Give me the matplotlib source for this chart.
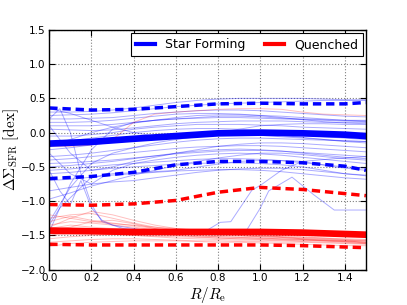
import matplotlib
matplotlib.use("Agg")
import matplotlib.pyplot as plt
import numpy as np

plt.rcParams['mathtext.fontset'] = 'cm'
plt.rcParams['font.family'] = ['DejaVu Sans']

# radial grid for thin profiles
r_grid = [0.0, 0.1, 0.2, 0.3, 0.4, 0.5, 0.6, 0.7, 0.8, 0.9, 1.0, 1.1, 1.2, 1.3, 1.4, 1.5]

blue_profiles = [
    [0.30, 0.30, 0.31, 0.33, 0.36, 0.40, 0.44, 0.47, 0.49, 0.50, 0.50, 0.50, 0.50, 0.49, 0.48, 0.48],
    [0.25, 0.26, 0.27, 0.29, 0.32, 0.35, 0.38, 0.40, 0.42, 0.43, 0.44, 0.45, 0.46, 0.47, 0.47, 0.47],
    [0.20, 0.20, 0.21, 0.22, 0.25, 0.28, 0.30, 0.32, 0.33, 0.33, 0.32, 0.30, 0.28, 0.26, 0.24, 0.23],
    [0.15, 0.15, 0.16, 0.18, 0.21, 0.24, 0.27, 0.28, 0.28, 0.27, 0.25, 0.22, 0.19, 0.16, 0.14, 0.13],
    [0.10, 0.10, 0.10, 0.12, 0.15, 0.18, 0.20, 0.21, 0.22, 0.22, 0.21, 0.20, 0.19, 0.18, 0.17, 0.16],
    [0.05, 0.04, 0.03, 0.04, 0.07, 0.10, 0.13, 0.15, 0.16, 0.17, 0.17, 0.17, 0.16, 0.15, 0.15, 0.15],
    [-0.05, -0.05, -0.03, 0.00, 0.05, 0.08, 0.10, 0.12, 0.12, 0.12, 0.11, 0.10, 0.08, 0.07, 0.06, 0.05],
    [0.35, 0.28, 0.18, 0.08, 0.00, -0.05, -0.05, -0.03, 0.00, 0.05, 0.10, 0.12, 0.13, 0.13, 0.12, 0.12],
    [-0.15, -0.12, -0.08, -0.04, 0.00, 0.03, 0.05, 0.06, 0.06, 0.05, 0.03, 0.00, -0.03, -0.06, -0.08, -0.10],
    [-0.25, -0.22, -0.18, -0.14, -0.10, -0.07, -0.05, -0.04, -0.03, -0.03, -0.04, -0.06, -0.08, -0.10, -0.12, -0.13],
    [-0.35, -0.33, -0.30, -0.26, -0.22, -0.18, -0.14, -0.11, -0.09, -0.08, -0.08, -0.09, -0.10, -0.11, -0.12, -0.13],
    [-0.40, -0.38, -0.35, -0.32, -0.29, -0.26, -0.23, -0.21, -0.20, -0.19, -0.19, -0.20, -0.22, -0.24, -0.26, -0.28],
    [-0.45, -0.44, -0.42, -0.40, -0.37, -0.34, -0.31, -0.29, -0.27, -0.26, -0.26, -0.27, -0.29, -0.31, -0.33, -0.35],
    [-0.50, -0.48, -0.45, -0.42, -0.38, -0.34, -0.30, -0.27, -0.25, -0.24, -0.25, -0.27, -0.30, -0.33, -0.36, -0.38],
    [-0.55, -0.53, -0.50, -0.47, -0.45, -0.43, -0.41, -0.39, -0.38, -0.38, -0.39, -0.41, -0.44, -0.47, -0.50, -0.52],
    [-0.60, -0.58, -0.55, -0.52, -0.50, -0.48, -0.46, -0.45, -0.44, -0.44, -0.45, -0.47, -0.50, -0.55, -0.60, -0.63],
    [-0.70, -0.68, -0.65, -0.62, -0.60, -0.58, -0.56, -0.55, -0.54, -0.54, -0.55, -0.57, -0.60, -0.63, -0.66, -0.68],
    [-0.85, -0.80, -0.75, -0.72, -0.70, -0.66, -0.62, -0.58, -0.55, -0.53, -0.52, -0.52, -0.54, -0.57, -0.60, -0.62],
    [-0.97, -0.88, -0.78, -0.70, -0.62, -0.55, -0.48, -0.42, -0.37, -0.33, -0.30, -0.30, -0.32, -0.35, -0.38, -0.40],
    [-1.45, -0.75, -0.25, 0.05, 0.15, 0.18, 0.20, 0.22, 0.24, 0.24, 0.23, 0.21, 0.20, 0.19, 0.18, 0.18],
    [-1.30, -0.80, -0.45, -0.30, -0.22, -0.15, -0.10, -0.06, -0.03, -0.02, -0.02, -0.04, -0.07, -0.10, -0.13, -0.15],
    [-0.30, -0.60, -0.75, -0.55, -0.45, -0.40, -0.36, -0.33, -0.31, -0.30, -0.31, -0.33, -0.36, -0.39, -0.42, -0.45],
    [0.10, -0.30, -0.55, -0.50, -0.42, -0.36, -0.30, -0.25, -0.20, -0.17, -0.15, -0.15, -0.16, -0.18, -0.20, -0.22],
    [-0.20, -0.10, 0.00, 0.08, 0.14, 0.18, 0.22, 0.25, 0.26, 0.26, 0.25, 0.24, 0.22, 0.20, 0.18, 0.17],
]

# irregular blue profiles with their own radii
blue_irr_r1 = [0.0, 0.05, 0.1, 0.15, 0.2, 0.25, 0.35, 0.5, 0.75, 0.81, 0.86, 0.96, 1.0, 1.1, 1.2, 1.35, 1.5]
blue_irr_y1 = [0.20, 0.35, 0.00, -0.60, -1.05, -1.30, -1.40, -1.45, -1.42, -1.31, -1.30, -0.84, -0.77, -0.55, -0.42, -0.38, -0.35]
blue_irr_r2 = [0.0, 0.05, 0.1, 0.15, 0.2, 0.25, 0.3, 0.5, 0.7, 0.93, 1.0, 1.04, 1.15, 1.25, 1.35, 1.5]
blue_irr_y2 = [-0.55, -0.85, -1.05, -0.70, -1.10, -1.28, -1.35, -1.45, -1.48, -1.45, -1.10, -0.85, -0.65, -0.90, -1.13, -1.13]
blue_irr_r3 = [0.0, 0.05, 0.1, 0.15, 0.2, 0.3, 0.45, 0.6, 0.75, 0.9, 1.05, 1.2, 1.35, 1.5]
blue_irr_y3 = [-1.35, -1.10, -0.95, -0.80, -0.65, -0.60, -0.58, -0.55, -0.48, -0.42, -0.40, -0.42, -0.50, -0.55]

red_profiles = [
    [-0.20, -0.20, -0.18, -0.10, 0.15, 0.27, 0.30, 0.32, 0.34, 0.35, 0.35, 0.34, 0.30, 0.27, 0.26, 0.25],
    [-1.25, -1.20, -1.18, -1.25, -1.32, -1.38, -1.42, -1.45, -1.47, -1.49, -1.50, -1.52, -1.54, -1.55, -1.57, -1.58],
    [-1.30, -1.22, -1.28, -1.32, -1.36, -1.40, -1.43, -1.46, -1.48, -1.50, -1.52, -1.53, -1.55, -1.57, -1.58, -1.60],
    [-1.35, -1.30, -1.32, -1.35, -1.38, -1.42, -1.45, -1.47, -1.49, -1.50, -1.51, -1.52, -1.53, -1.54, -1.55, -1.56],
    [-1.40, -1.35, -1.38, -1.40, -1.42, -1.44, -1.46, -1.48, -1.50, -1.51, -1.52, -1.53, -1.55, -1.56, -1.57, -1.58],
    [-1.45, -1.42, -1.44, -1.46, -1.48, -1.49, -1.50, -1.51, -1.52, -1.53, -1.54, -1.55, -1.56, -1.57, -1.58, -1.60],
    [-1.50, -1.48, -1.47, -1.48, -1.50, -1.51, -1.52, -1.53, -1.54, -1.55, -1.55, -1.56, -1.57, -1.58, -1.59, -1.61],
    [-1.55, -1.52, -1.50, -1.49, -1.50, -1.52, -1.54, -1.55, -1.56, -1.57, -1.57, -1.58, -1.59, -1.60, -1.61, -1.62],
    [-1.60, -1.58, -1.56, -1.55, -1.55, -1.56, -1.57, -1.58, -1.58, -1.59, -1.59, -1.60, -1.60, -1.61, -1.62, -1.63],
    [-1.66, -1.62, -1.60, -1.59, -1.58, -1.58, -1.58, -1.59, -1.60, -1.60, -1.61, -1.62, -1.63, -1.64, -1.65, -1.65],
    [-1.20, -1.25, -1.30, -1.33, -1.35, -1.38, -1.40, -1.42, -1.44, -1.45, -1.46, -1.47, -1.48, -1.49, -1.50, -1.50],
    [-1.38, -1.25, -1.15, -1.20, -1.28, -1.35, -1.40, -1.43, -1.45, -1.47, -1.48, -1.50, -1.52, -1.54, -1.56, -1.57],
    [-1.50, -1.45, -1.40, -1.42, -1.45, -1.48, -1.50, -1.52, -1.54, -1.55, -1.56, -1.57, -1.58, -1.58, -1.59, -1.60],
    [-1.42, -1.38, -1.30, -1.28, -1.33, -1.40, -1.46, -1.50, -1.52, -1.53, -1.54, -1.55, -1.56, -1.58, -1.60, -1.62],
]

# summary curves
r_sum = [0.0, 0.2, 0.4, 0.6, 0.8, 1.0, 1.2, 1.4, 1.5]
sf_median = [-0.16, -0.135, -0.09, -0.05, -0.01, 0.00, -0.01, -0.03, -0.05]
sf_upper = [0.36, 0.33, 0.34, 0.38, 0.42, 0.43, 0.42, 0.42, 0.44]
sf_lower = [-0.67, -0.64, -0.58, -0.47, -0.42, -0.42, -0.44, -0.49, -0.55]
q_median = [-1.43, -1.44, -1.45, -1.45, -1.45, -1.45, -1.46, -1.48, -1.49]
q_upper = [-1.05, -1.06, -1.04, -0.99, -0.87, -0.80, -0.83, -0.89, -0.92]
q_lower = [-1.63, -1.64, -1.64, -1.64, -1.64, -1.64, -1.65, -1.67, -1.68]

x_ticks = [0.0, 0.2, 0.4, 0.6, 0.8, 1.0, 1.2, 1.4]
y_ticks = [-2.0, -1.5, -1.0, -0.5, 0.0, 0.5, 1.0, 1.5]

fig = plt.figure(figsize=(4.07, 3.05), dpi=100)
ax = fig.add_axes([0.121, 0.116, 0.778, 0.786])

for y in blue_profiles:
    ax.plot(r_grid, y, color='blue', alpha=0.33, lw=0.7)
for rr, yy in [(blue_irr_r1, blue_irr_y1), (blue_irr_r2, blue_irr_y2), (blue_irr_r3, blue_irr_y3)]:
    ax.plot(rr, yy, color='blue', alpha=0.33, lw=0.7)
for y in red_profiles:
    ax.plot(r_grid, y, color='red', alpha=0.25, lw=0.7)

dash = (0, (2.4, 1.4))
ax.plot(r_sum, sf_median, color='blue', lw=4.8, label='Star Forming')
ax.plot(r_sum, sf_upper, color='blue', lw=2.5, ls=dash)
ax.plot(r_sum, sf_lower, color='blue', lw=2.5, ls=dash)
ax.plot(r_sum, q_median, color='red', lw=4.8, label='Quenched')
ax.plot(r_sum, q_upper, color='red', lw=2.5, ls=dash)
ax.plot(r_sum, q_lower, color='red', lw=2.5, ls=dash)

ax.set_xlim(0, 1.5)
ax.set_ylim(-2.0, 1.5)
ax.set_xticks(x_ticks)
ax.set_yticks(y_ticks)
ax.set_xticklabels([f"{v:.1f}" for v in x_ticks], fontsize=7.5)
ax.set_yticklabels([f"{v:.1f}".replace('-', '\u2212') for v in y_ticks], fontsize=7.5)
ax.tick_params(direction='in', top=True, right=True, length=4, width=0.8, pad=2.5)
ax.grid(True, color='gray', ls=':', lw=0.8)
for s in ax.spines.values():
    s.set_linewidth(1.0)

ax.set_xlabel(r'$R/R_{\rm e}$', fontsize=11)
ax.set_ylabel(r'$\Delta\Sigma_{\rm SFR}\ [{\rm dex}]$', fontsize=11)
ax.xaxis.set_label_coords(0.5, -0.064)
ax.yaxis.set_label_coords(-0.09, 0.5)

leg = ax.legend(loc='upper right', ncol=2, fontsize=9, fancybox=False, framealpha=1,
                edgecolor='black', handlelength=1.5, handletextpad=0.8,
                columnspacing=1.6, borderaxespad=0.25, borderpad=0.4)
leg.get_frame().set_linewidth(0.8)
for h in leg.get_lines():
    h.set_linewidth(3)

fig.savefig('out.png', dpi=100, facecolor='white')
